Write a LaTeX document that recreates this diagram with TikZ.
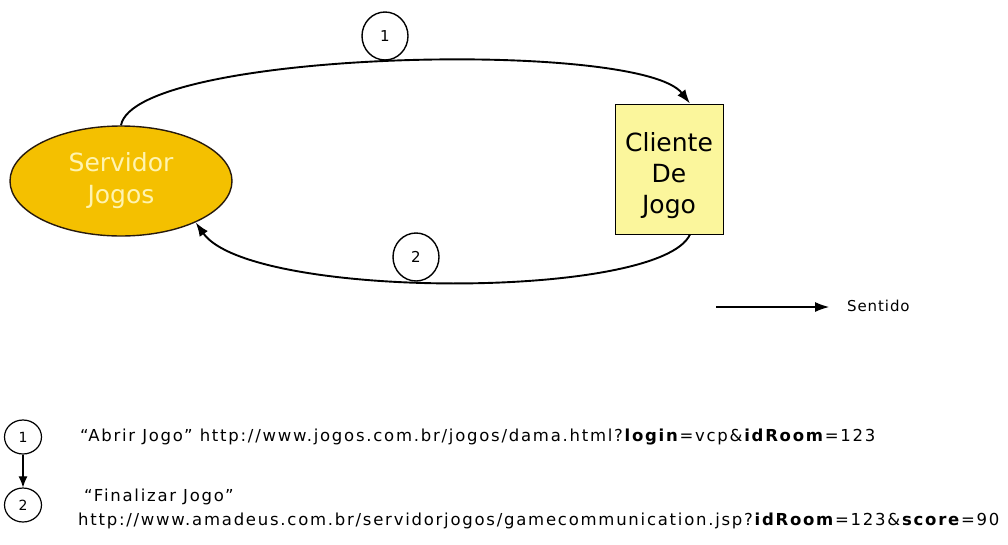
\documentclass[tikz,border=0pt]{standalone}
\usepackage{fontspec}
\setmainfont{DejaVu Sans}
\newfontfamily\legfont[LetterSpace=10.6]{DejaVu Sans}
\newfontfamily\keyfont[LetterSpace=6]{DejaVu Sans}
\usetikzlibrary{shapes.geometric,arrows.meta}
\definecolor{srvgold}{HTML}{F4C000}
\definecolor{srvtext}{HTML}{FFF4B0}
\definecolor{cliyellow}{HTML}{FBF69C}
\tikzset{
  flow/.style={line width=1.9pt,-{Latex[length=14pt,width=10pt]}},
  stepmark/.style={draw,ellipse,line width=1.4pt,minimum width=46pt,minimum height=48pt,inner sep=0pt,font=\fontsize{15}{15}\selectfont,fill=white},
  legmark/.style={draw,ellipse,line width=1.2pt,minimum width=37pt,minimum height=34pt,inner sep=0pt,font=\fontsize{14}{14}\selectfont},
  legtext/.style={anchor=west,inner sep=0pt,font=\legfont\fontsize{16.5}{19}\selectfont},
}
\begin{document}
\begin{tikzpicture}[x=1pt,y=-1pt]
\useasboundingbox (0,0) rectangle (1008,544);

% server and client
\node[draw=black!80!brown,line width=1.4pt,fill=srvgold,ellipse,minimum width=222pt,minimum height=110pt,
      text=srvtext,font=\fontsize{25}{32}\selectfont,align=center] (srv) at (121,181) {Servidor\\Jogos};
\node[draw,line width=0.9pt,fill=cliyellow,minimum width=108pt,minimum height=130pt,inner sep=0pt] (cli) at (669,169) {};
\node[font=\fontsize{25}{31}\selectfont,align=center,inner sep=0pt] (clit) at ([yshift=-7pt]cli.center) {Cliente\\De\\Jogo};

% request and response arcs
\draw[flow] (srv.north) .. controls (135,50) and (640,39) .. ([xshift=21pt]cli.north);
\draw[flow] ([xshift=21pt]cli.south) .. controls (660,300) and (250,300) .. (srv.-29);

\node[stepmark] (s1) at (385,36) {1};
\node[stepmark] (s2) at (416,257) {2};

% direction key
\coordinate (k0) at (716,307);
\coordinate (k1) at (829,307);
\node[anchor=west,inner sep=0pt,font=\keyfont\fontsize{15}{15}\selectfont] (sent) at (847,306) {Sentido};
\draw[line width=1.1pt,-{Latex[length=14pt,width=10pt]}] (k0) -- (k1);

% legend
\node[legmark] (l1) at (23,437) {1};
\node[legmark] (l2) at (23,505) {2};
\draw[line width=1.1pt,-{Latex[length=11pt,width=9pt]}] (l1.south) -- (l2.north);

\node[legtext] (t1) at (80,437) {“Abrir Jogo” http://www.jogos.com.br/jogos/dama.html?\textbf{login}=vcp\&\textbf{idRoom}=123};
\node[legtext] (t2) at (84,497) {“Finalizar Jogo”};
\node[legtext] (t3) at (78,521) {http://www.amadeus.com.br/servidorjogos/gamecommunication.jsp?\textbf{idRoom}=123\&\textbf{score}=90};
\end{tikzpicture}
\end{document}
